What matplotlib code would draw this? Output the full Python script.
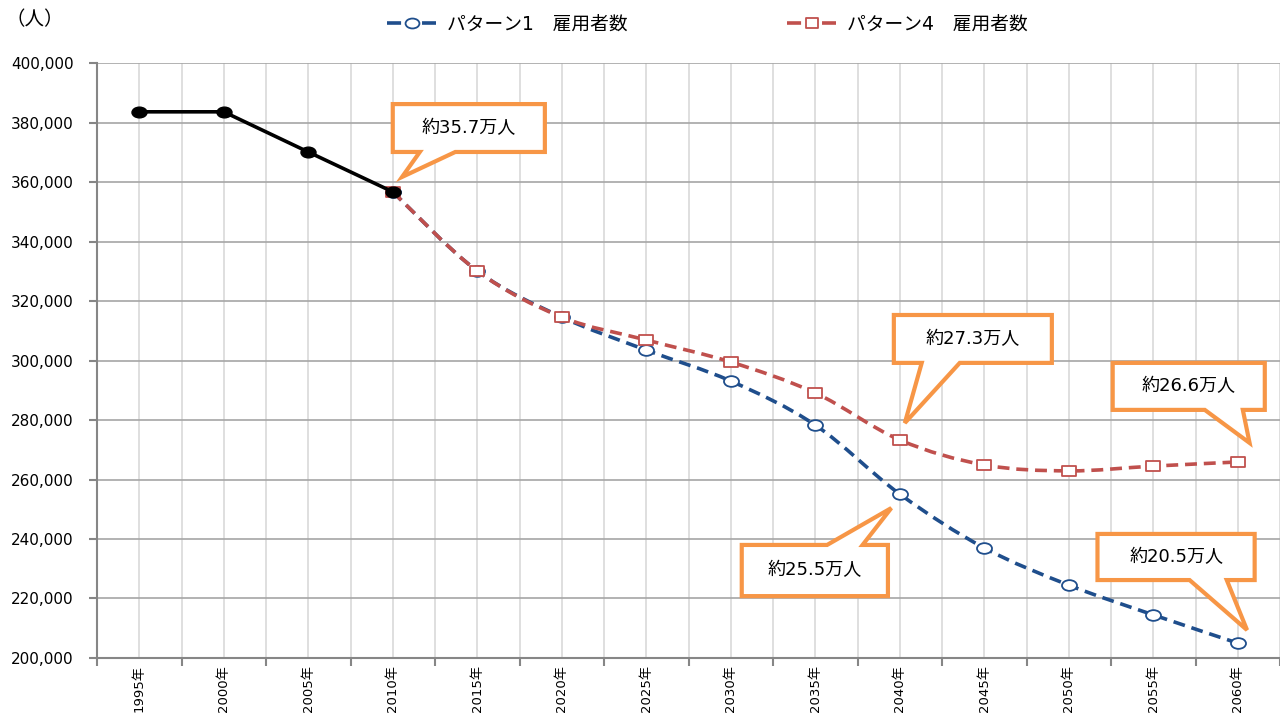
import matplotlib.pyplot as plt
from matplotlib.path import Path
from matplotlib.patches import PathPatch, Polygon
from matplotlib.lines import Line2D
from matplotlib.transforms import Affine2D
import numpy as np

plt.rcParams['font.family'] = ['DejaVu Sans', 'Noto Sans CJK JP']

years = [1995, 2000, 2005, 2010, 2015, 2020, 2025, 2030, 2035, 2040, 2045, 2050, 2055, 2060]
year_labels = [f'{y}年' for y in years]

# actual employees 1995-2010
actual = [383600, 383600, 370100, 356700]
# pattern 1 / pattern 4 projections, 2010-2060
pattern1 = [356700, 330100, 314600, 303500, 293100, 278300, 255100, 237000, 224500, 214500, 205000]
pattern4 = [356700, 330100, 314600, 306900, 299500, 289100, 273300, 264900, 262900, 264500, 265900]

label1 = 'パターン1\u3000雇用者数'
label4 = 'パターン4\u3000雇用者数'

BLUE = '#1F4E8C'
RED = '#C0504D'
ORANGE = '#F79646'

# slightly wide markers, like the Excel export
ellipse = Affine2D().scale(1.4, 1.0).transform_path(Path.unit_circle())
rect = Path([(-1.2, -1), (1.2, -1), (1.2, 1), (-1.2, 1), (-1.2, -1)],
            [Path.MOVETO, Path.LINETO, Path.LINETO, Path.LINETO, Path.CLOSEPOLY])

fig = plt.figure(figsize=(12.8, 7.17), dpi=100)
ax = fig.add_axes([0.0758, 0.0823, 0.9242, 0.8298])

n = len(years)
ax.set_xlim(-0.5, n - 0.5)
ax.set_ylim(200000, 400000)
ax.set_yticks(np.arange(200000, 400001, 20000))
ax.yaxis.set_major_formatter(plt.FuncFormatter(lambda v, p: f'{int(v):,}'))
ax.tick_params(axis='y', length=6, width=1.5, color='#868686', labelsize=11, pad=11)

ax.set_xticks(range(n))
ax.set_xticklabels(year_labels, rotation=90, fontsize=9.5)
ax.set_xticks(np.arange(-0.5, n, 1.0), minor=True)
ax.tick_params(axis='x', which='major', length=0, pad=5)
ax.tick_params(axis='x', which='minor', length=6, width=1.5, color='#868686', direction='out')

# grid: light verticals at centres and boundaries, darker horizontals
for xv in np.arange(-0.5, n, 0.5):
    ax.axvline(xv, color='#D9D9D9', lw=1.2, zorder=0)
ax.grid(axis='y', color='#A6A6A6', lw=1.2, zorder=0)
ax.set_axisbelow(True)

for s in ['top', 'right']:
    ax.spines[s].set_visible(False)
for s in ['left', 'bottom']:
    ax.spines[s].set_color('#868686')
    ax.spines[s].set_linewidth(1.5)


def smooth_path(xs, ys):
    # Catmull-Rom style bezier through every point (Excel "smoothed line")
    pts = np.column_stack([xs, ys]).astype(float)
    verts = [pts[0]]
    codes = [Path.MOVETO]
    for i in range(len(pts) - 1):
        p0 = pts[i - 1] if i > 0 else pts[i]
        p1 = pts[i]
        p2 = pts[i + 1]
        p3 = pts[i + 2] if i + 2 < len(pts) else pts[i + 1]
        c1 = p1 + (p2 - p0) / 6.0
        c2 = p2 - (p3 - p1) / 6.0
        verts += [c1, c2, p2]
        codes += [Path.CURVE4] * 3
    return Path(verts, codes)


proj_x = list(range(3, n))
dash = (0, (3.3, 1.9))

ax.add_patch(PathPatch(smooth_path(proj_x, pattern1), fill=False, edgecolor=BLUE,
                       lw=2.6, linestyle=dash, zorder=3))
ax.plot(proj_x, pattern1, linestyle='none', marker=ellipse, ms=10.8, mfc='white',
        mec=BLUE, mew=1.3, zorder=4)

ax.add_patch(PathPatch(smooth_path(proj_x, pattern4), fill=False, edgecolor=RED,
                       lw=2.6, linestyle=dash, zorder=5))
ax.plot(proj_x, pattern4, linestyle='none', marker=rect, ms=9.4, mfc='white',
        mec=RED, mew=1.3, zorder=6)

ax.plot(range(len(actual)), actual, color='black', lw=2.6, marker=ellipse, ms=10.8,
        mfc='black', mec='black', zorder=7)

# callouts: box (x0, x1, ybottom, ytop), wedge base on one edge, tip point
callouts = [
    ('約35.7万人', (3.00, 4.80, 370100, 386200), 'bottom', (3.32, 3.74), (3.11, 361700)),
    ('約27.3万人', (8.93, 10.80, 299200, 315300), 'bottom', (9.26, 9.71), (9.06, 279000)),
    ('約25.5万人', (7.13, 8.86, 220800, 238000), 'top', (8.14, 8.56), (8.90, 250400)),
    ('約26.6万人', (11.52, 13.32, 283400, 299200), 'bottom', (12.61, 13.06), (13.14, 272300)),
    ('約20.5万人', (11.34, 13.20, 226200, 241700), 'bottom', (12.43, 12.87), (13.11, 209400)),
]
for text, (x0, x1, yb, yt), side, (b0, b1), tip in callouts:
    if side == 'bottom':
        pts = [(x0, yt), (x1, yt), (x1, yb), (b1, yb), tip, (b0, yb), (x0, yb)]
    else:
        pts = [(x0, yb), (x0, yt), (b0, yt), tip, (b1, yt), (x1, yt), (x1, yb)]
    ax.add_patch(Polygon(pts, closed=True, facecolor='white', edgecolor=ORANGE,
                         lw=3, joinstyle='miter', zorder=8, clip_on=False))
    ax.text((x0 + x1) / 2, (yb + yt) / 2, text, ha='center', va='center',
            fontsize=13, zorder=9)

fig.text(0.004, 0.973, '（人）', ha='left', va='center', fontsize=14,
         family=['Noto Sans CJK JP'])

handles = [
    Line2D([], [], color=BLUE, lw=2.6, linestyle=(0, (3.9, 5.8)), marker=ellipse, ms=10,
           mfc='white', mec=BLUE, mew=1.3),
    Line2D([], [], color=RED, lw=2.6, linestyle=(0, (3.9, 5.8)), marker=rect, ms=9,
           mfc='white', mec=RED, mew=1.3),
]
fig.legend(handles, [label1, label4], loc='center', bbox_to_anchor=(0.553, 0.966),
           ncol=2, frameon=False, fontsize=13.5, handlelength=2.6,
           columnspacing=8.5, handletextpad=0.6)

fig.savefig('out.png', dpi=100)
